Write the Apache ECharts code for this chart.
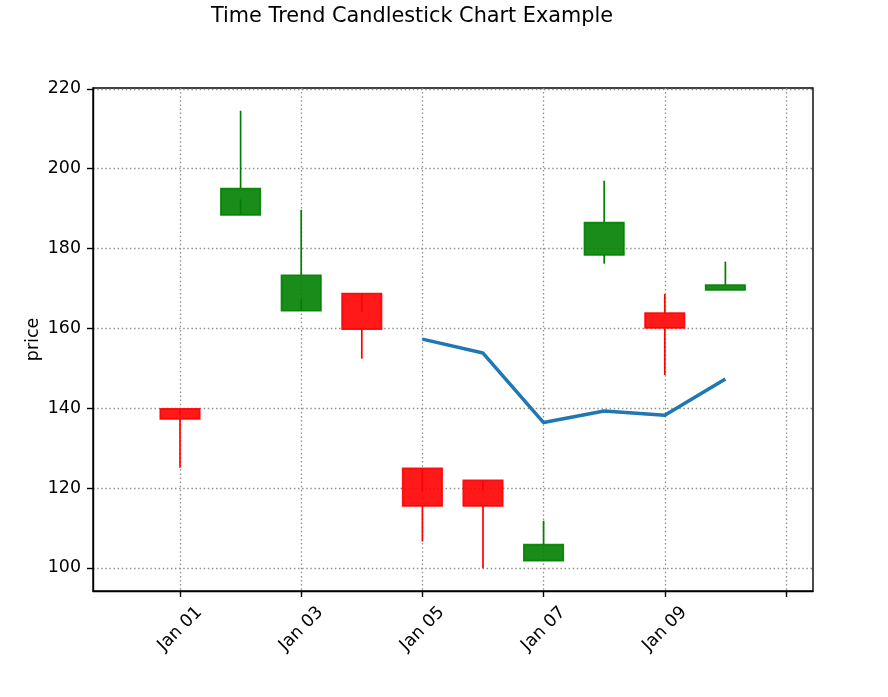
<!DOCTYPE html>
<html>
<head>
<meta charset="utf-8">
<script src="https://cdn.jsdelivr.net/npm/echarts@6/dist/echarts.min.js"></script>
<style>
html,body{margin:0;padding:0;background:#fff;}
#chart{width:888px;height:697px;}
</style>
</head>
<body>
<div id="chart"></div>
<script>
// ---- data ----
const dateLabels = ['Jan 01','Jan 02','Jan 03','Jan 04','Jan 05','Jan 06','Jan 07','Jan 08','Jan 09','Jan 10'];
const openVals  = [139.8, 188.4, 164.4, 168.7, 124.9, 121.9, 101.8, 178.4, 163.8, 169.6];
const closeVals = [137.3, 195.0, 173.3, 159.8, 115.5, 115.5, 105.8, 186.5, 160.1, 170.8];
const lowVals   = [125.1, 192.3, 167.3, 152.4, 106.6,  99.9, 101.8, 176.2, 148.3, 169.6];
const highVals  = [138.2, 214.5, 189.7, 164.2, 119.1, 119.3, 111.8, 197.0, 168.6, 176.7];
const trendLabels = ['Jan 05','Jan 06','Jan 07','Jan 08','Jan 09','Jan 10'];
const trendVals   = [157.3, 153.8, 136.4, 139.3, 138.2, 147.3];
const xTickValues = [0, 2, 4, 6, 8, 10];
const xTickLabels = ['Jan 01','Jan 03','Jan 05','Jan 07','Jan 09',''];
const yTickValues = [100, 120, 140, 160, 180, 200, 220];

// ---- build ----
const candleData = dateLabels.map((d, i) => [i, openVals[i], closeVals[i], lowVals[i], highVals[i]]);
const trendData = trendLabels.map((d, i) => [dateLabels.indexOf(d), trendVals[i]]);
const BODY_W = 0.65;
const FONT = 'DejaVu Sans';

const chart = echarts.init(document.getElementById('chart'), null, {renderer: 'canvas'});
const gridLine = {show: true, lineStyle: {color: '#8f8f8f', width: 1.3, type: [1.5, 2.6]}};

chart.setOption({
  animation: false,
  backgroundColor: '#fff',
  title: {
    text: 'Time Trend Candlestick Chart Example',
    left: 206, top: 1,
    textStyle: {fontFamily: FONT, fontSize: 20.8, fontWeight: 'normal', color: '#000'}
  },
  grid: {left: 93, top: 88, width: 720, height: 503, show: true, borderColor: '#000', borderWidth: 1.4,
         containLabel: false, outerBoundsMode: 'none'},
  xAxis: {
    type: 'value', min: -1.436, max: 10.446,
    axisLine: {show: true, onZero: false, lineStyle: {color: '#000', width: 1.4}},
    axisTick: {show: true, customValues: xTickValues, length: 6, lineStyle: {color: '#000', width: 1.4}},
    axisLabel: {
      customValues: xTickValues.slice(0, 5), rotate: 45, margin: 38,
      align: 'center', verticalAlign: 'middle',
      fontFamily: FONT, fontSize: 17.4, color: '#000',
      formatter: v => xTickLabels[xTickValues.indexOf(v)]
    },
    splitLine: gridLine
  },
  yAxis: {
    type: 'value', min: 94.2, max: 220.2,
    name: 'price', nameLocation: 'middle', nameGap: 51, nameMoveOverlap: false,
    nameTextStyle: {fontFamily: FONT, fontSize: 17.4, color: '#000'},
    axisLine: {show: true, onZero: false, lineStyle: {color: '#000', width: 1.4}},
    axisTick: {show: true, customValues: yTickValues, length: 6, lineStyle: {color: '#000', width: 1.4}},
    axisLabel: {customValues: yTickValues, margin: 12, fontFamily: FONT, fontSize: 17.4, color: '#000'},
    splitLine: gridLine
  },
  series: [
    {
      type: 'custom',
      data: candleData,
      clip: true,
      renderItem: function (params, api) {
        const x = api.value(0), o = api.value(1), c = api.value(2), lo = api.value(3), hi = api.value(4);
        const top = Math.max(o, c), bot = Math.min(o, c);
        const up = c >= o;
        const solid = up ? '#008000' : '#ff0000';
        const fill = up ? 'rgba(0,128,0,0.9)' : 'rgba(255,0,0,0.9)';
        const pHi = api.coord([x, hi]), pTop = api.coord([x, top]);
        const pLo = api.coord([x, lo]), pBot = api.coord([x, bot]);
        const tl = api.coord([x - BODY_W / 2, top]), br = api.coord([x + BODY_W / 2, bot]);
        return {
          type: 'group',
          children: [
            {type: 'line', shape: {x1: pHi[0], y1: pHi[1], x2: pTop[0], y2: pTop[1]},
             style: {stroke: solid, lineWidth: 1.7}},
            {type: 'line', shape: {x1: pLo[0], y1: pLo[1], x2: pBot[0], y2: pBot[1]},
             style: {stroke: solid, lineWidth: 1.7}},
            {type: 'rect', shape: {x: tl[0], y: tl[1], width: br[0] - tl[0], height: br[1] - tl[1]},
             style: {fill: fill, stroke: fill, lineWidth: 1.7}}
          ]
        };
      }
    },
    {
      type: 'line', data: trendData, showSymbol: false, symbol: 'none',
      lineStyle: {color: '#1f77b4', width: 3.5}, z: 3
    }
  ]
});
</script>
</body>
</html>
